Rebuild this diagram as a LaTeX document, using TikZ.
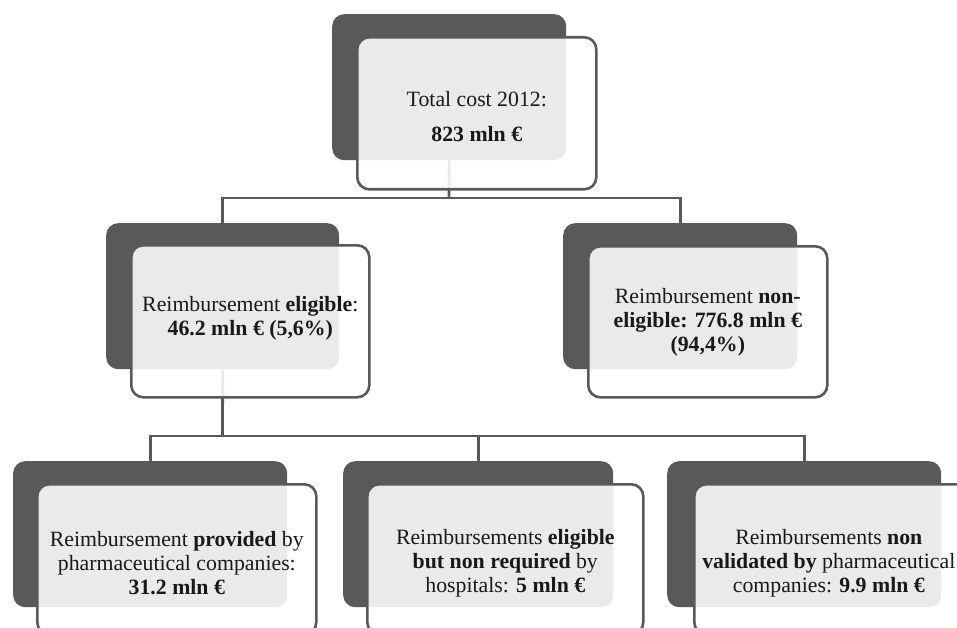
\documentclass[tikz,border=0pt]{standalone}
\usepackage{fontspec}
\setmainfont{Liberation Serif}
\definecolor{darkg}{HTML}{595959}
\tikzset{
  darkbox/.style={fill=darkg, draw=none, rounded corners=12pt, inner sep=0pt, anchor=north west},
  framebox/.style={fill=white, fill opacity=0.88, draw=darkg, line width=2.6pt, rounded corners=12pt, inner sep=0pt, anchor=north west},
  txt/.style={align=center, font=\fontsize{21.8}{24}\selectfont, text=black!90, inner sep=0pt},
  conn/.style={draw=darkg, line width=2.8pt}
}
\begin{document}
\begin{tikzpicture}[x=1pt,y=-1pt]
\useasboundingbox (0,0) rectangle (957,628);
% dark back boxes
\node[darkbox, minimum width=234pt, minimum height=146pt] (d0) at (332,14) {};
\node[darkbox, minimum width=233pt, minimum height=146pt] (d1) at (106,223) {};
\node[darkbox, minimum width=234pt, minimum height=146pt] (d2) at (563,223) {};
\node[darkbox, minimum width=274pt, minimum height=146pt] (d3) at (13,461) {};
\node[darkbox, minimum width=270pt, minimum height=146pt] (d4) at (343,461) {};
\node[darkbox, minimum width=274pt, minimum height=146pt] (d5) at (667,461) {};
% connectors
\coordinate (b1) at (449,198);
\coordinate (b2) at (222.5,436);
\draw[conn] (d0.south) -- (b1);
\draw[conn] (d1.north) |- (b1) -| (d2.north);
\draw[conn] (d1.south) -- (b2);
\draw[conn] (d3.north) |- (b2) -| (d5.north);
\draw[conn] (d4.north) -- (d4.north |- b2);
% front frames
\node[framebox, minimum width=239pt, minimum height=152pt] (f0) at (356,36) {};
\node[framebox, minimum width=238pt, minimum height=152pt] (f1) at (130,244) {};
\node[framebox, minimum width=239pt, minimum height=151pt] (f2) at (587,245) {};
\node[framebox, minimum width=279pt, minimum height=150pt] (f3) at (36,483) {};
\node[framebox, minimum width=276pt, minimum height=150pt] (f4) at (366,483) {};
\node[framebox, minimum width=279pt, minimum height=150pt] (f5) at (693,483) {};
% texts
\node[txt] (t0) at ([yshift=-3pt]f0.center) {Total cost 2012:\\[11pt]\textbf{823 mln €}};
\node[txt] (t1) at ([yshift=3pt]f1.center) {Reimbursement \textbf{eligible}:\\\textbf{46.2 mln € (5,6\%)}};
\node[txt] (t2) at ([yshift=0pt]f2.center) {Reimbursement \textbf{non-}\\\textbf{eligible: 776.8 mln €}\\\textbf{(94,4\%)}};
\node[txt] (t3) at ([yshift=-4pt]f3.center) {Reimbursement \textbf{provided} by\\pharmaceutical companies:\\\textbf{31.2 mln €}};
\node[txt] (t4) at ([yshift=-4pt]f4.center) {Reimbursements \textbf{eligible}\\\textbf{but non required} by\\hospitals: \textbf{5 mln €}};
\node[txt] (t5) at ([yshift=-4pt,xshift=-5pt]f5.center) {Reimbursements \textbf{non}\\\textbf{validated by} pharmaceutical\\companies: \textbf{9.9 mln €}};
\end{tikzpicture}
\end{document}
